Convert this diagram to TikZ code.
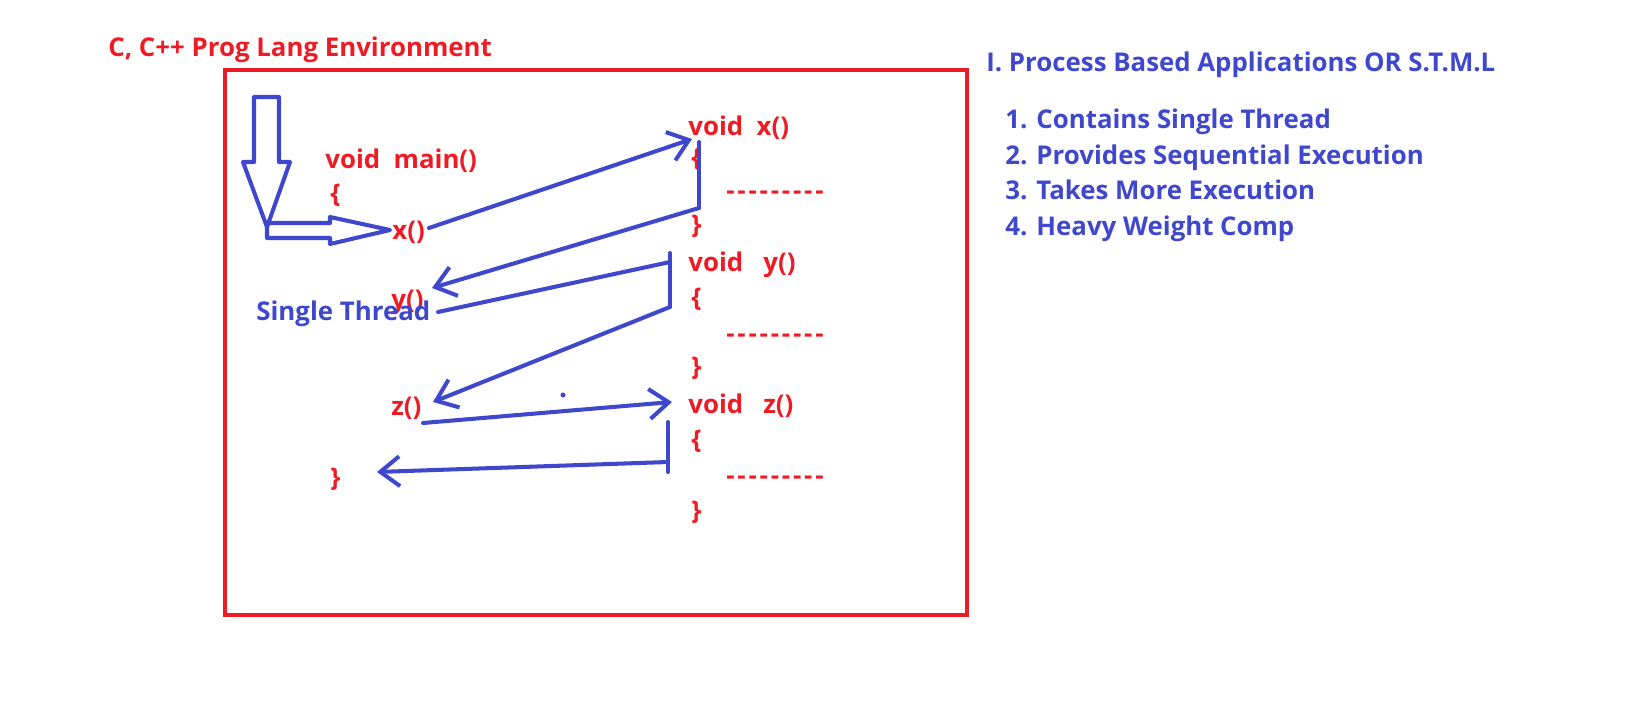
\documentclass[tikz,border=0pt]{standalone}
\usepackage{fontspec}
\setmainfont{Open Sans}
\definecolor{paintred}{RGB}{237, 28, 36}
\definecolor{paintblue}{RGB}{63, 72, 204}
\usetikzlibrary{arrows.meta}
\newcommand{\codedash}{\foreach \i in {1,...,9}{-\kern1.6pt}}

\begin{document}
\begin{tikzpicture}[x=0.02cm, y=-0.02cm,
  every node/.style={font=\bfseries\fontsize{14.7}{17}\selectfont, anchor=west, inner sep=0pt, text height=10.5pt, text depth=0pt},
  code/.style={text=paintred},
  note/.style={text=paintblue},
  flow/.style={paintblue, line width=2.3pt, line cap=round, line join=round},
  call/.style={flow, -{Straight Barb[length=11pt, width=17pt, line width=2.3pt]}}]
  \useasboundingbox (0,0) rectangle (1640,720);
  % environment frame
  \draw[paintred, line width=2.3pt] (225,70) rectangle (967,615);
  \node[code] (env) at (108,47) {C, C++ Prog Lang Environment};
  % main()
  \node[code] (main) at (325,159) {void\ \ main()};
  \node[code] (mopen) at (330,193) {\{};
  \node[code] (cx) at (392,230) {x()};
  \node[code] (cy) at (391,299) {y()};
  \node[code] (cz) at (391,406) {z()};
  \node[code] (mclose) at (330,477) {\}};
  % x(), y(), z() bodies
  \node[code] (fx) at (688,126) {void\ \ x()};
  \node[code] (xopen) at (691,157) {\{};
  \node[code] (xbody) at (726,190) {\codedash};
  \node[code] (xclose) at (691,224) {\}};
  \node[code] (fy) at (688,262) {void\ \ \ y()};
  \node[code] (yopen) at (691,297) {\{};
  \node[code] (ybody) at (726,333) {\codedash};
  \node[code] (yclose) at (691,366) {\}};
  \node[code] (fz) at (688,404) {void\ \ \ z()};
  \node[code] (zopen) at (691,439) {\{};
  \node[code] (zbody) at (726,475) {\codedash};
  \node[code] (zclose) at (691,510) {\}};
  \node[note] (thread) at (256,311) {Single Thread};
  % notes
  \node[note] (head) at (986,62) {I. Process Based Applications OR S.T.M.L};
  \node[note] (p1) at (1005,119) {1. Contains Single Thread};
  \node[note] (p2) at (1005,155) {2. Provides Sequential Execution};
  \node[note] (p3) at (1005,190) {3. Takes More Execution};
  \node[note] (p4) at (1005,226) {4. Heavy Weight Comp};
  % start arrows
  \draw[flow] (254,97) -- (279,97) -- (279,162) -- (290,162) -- (267,227) -- (243,162) -- (254,162) -- cycle;
  \draw[flow] (267,223) -- (330,223) -- (330,217) -- (390,230) -- (330,244) -- (330,238) -- (267,238) -- cycle;
  % call and return points
  \coordinate (xin) at (692,139);
  \coordinate (xtop) at (699,142);
  \coordinate (xbot) at (699,208);
  \coordinate (ytop) at (670,253);
  \coordinate (yret) at (670,262);
  \coordinate (ybot) at (670,307);
  \coordinate (zin) at (672,402);
  \coordinate (ztop) at (668,422);
  \coordinate (zret) at (668,462);
  \coordinate (zbot) at (668,472);
  \coordinate (yback) at (432,288);
  \coordinate (zback) at (433,402);
  \coordinate (mback) at (377,472);
  \draw[call] (429,228) -- (xin);
  \draw[flow] (xtop) -- (xbot);
  \draw[call] (xbot) -- (yback);
  \draw[flow] (438,312) -- (yret);
  \draw[flow] (ytop) -- (ybot);
  \draw[call] (ybot) -- (zback);
  \draw[call] (423,423) -- (zin);
  \draw[flow] (ztop) -- (zbot);
  \draw[call] (zret) -- (mback);
  \fill[paintblue] (563,395) circle (2.5);
\end{tikzpicture}
\end{document}
